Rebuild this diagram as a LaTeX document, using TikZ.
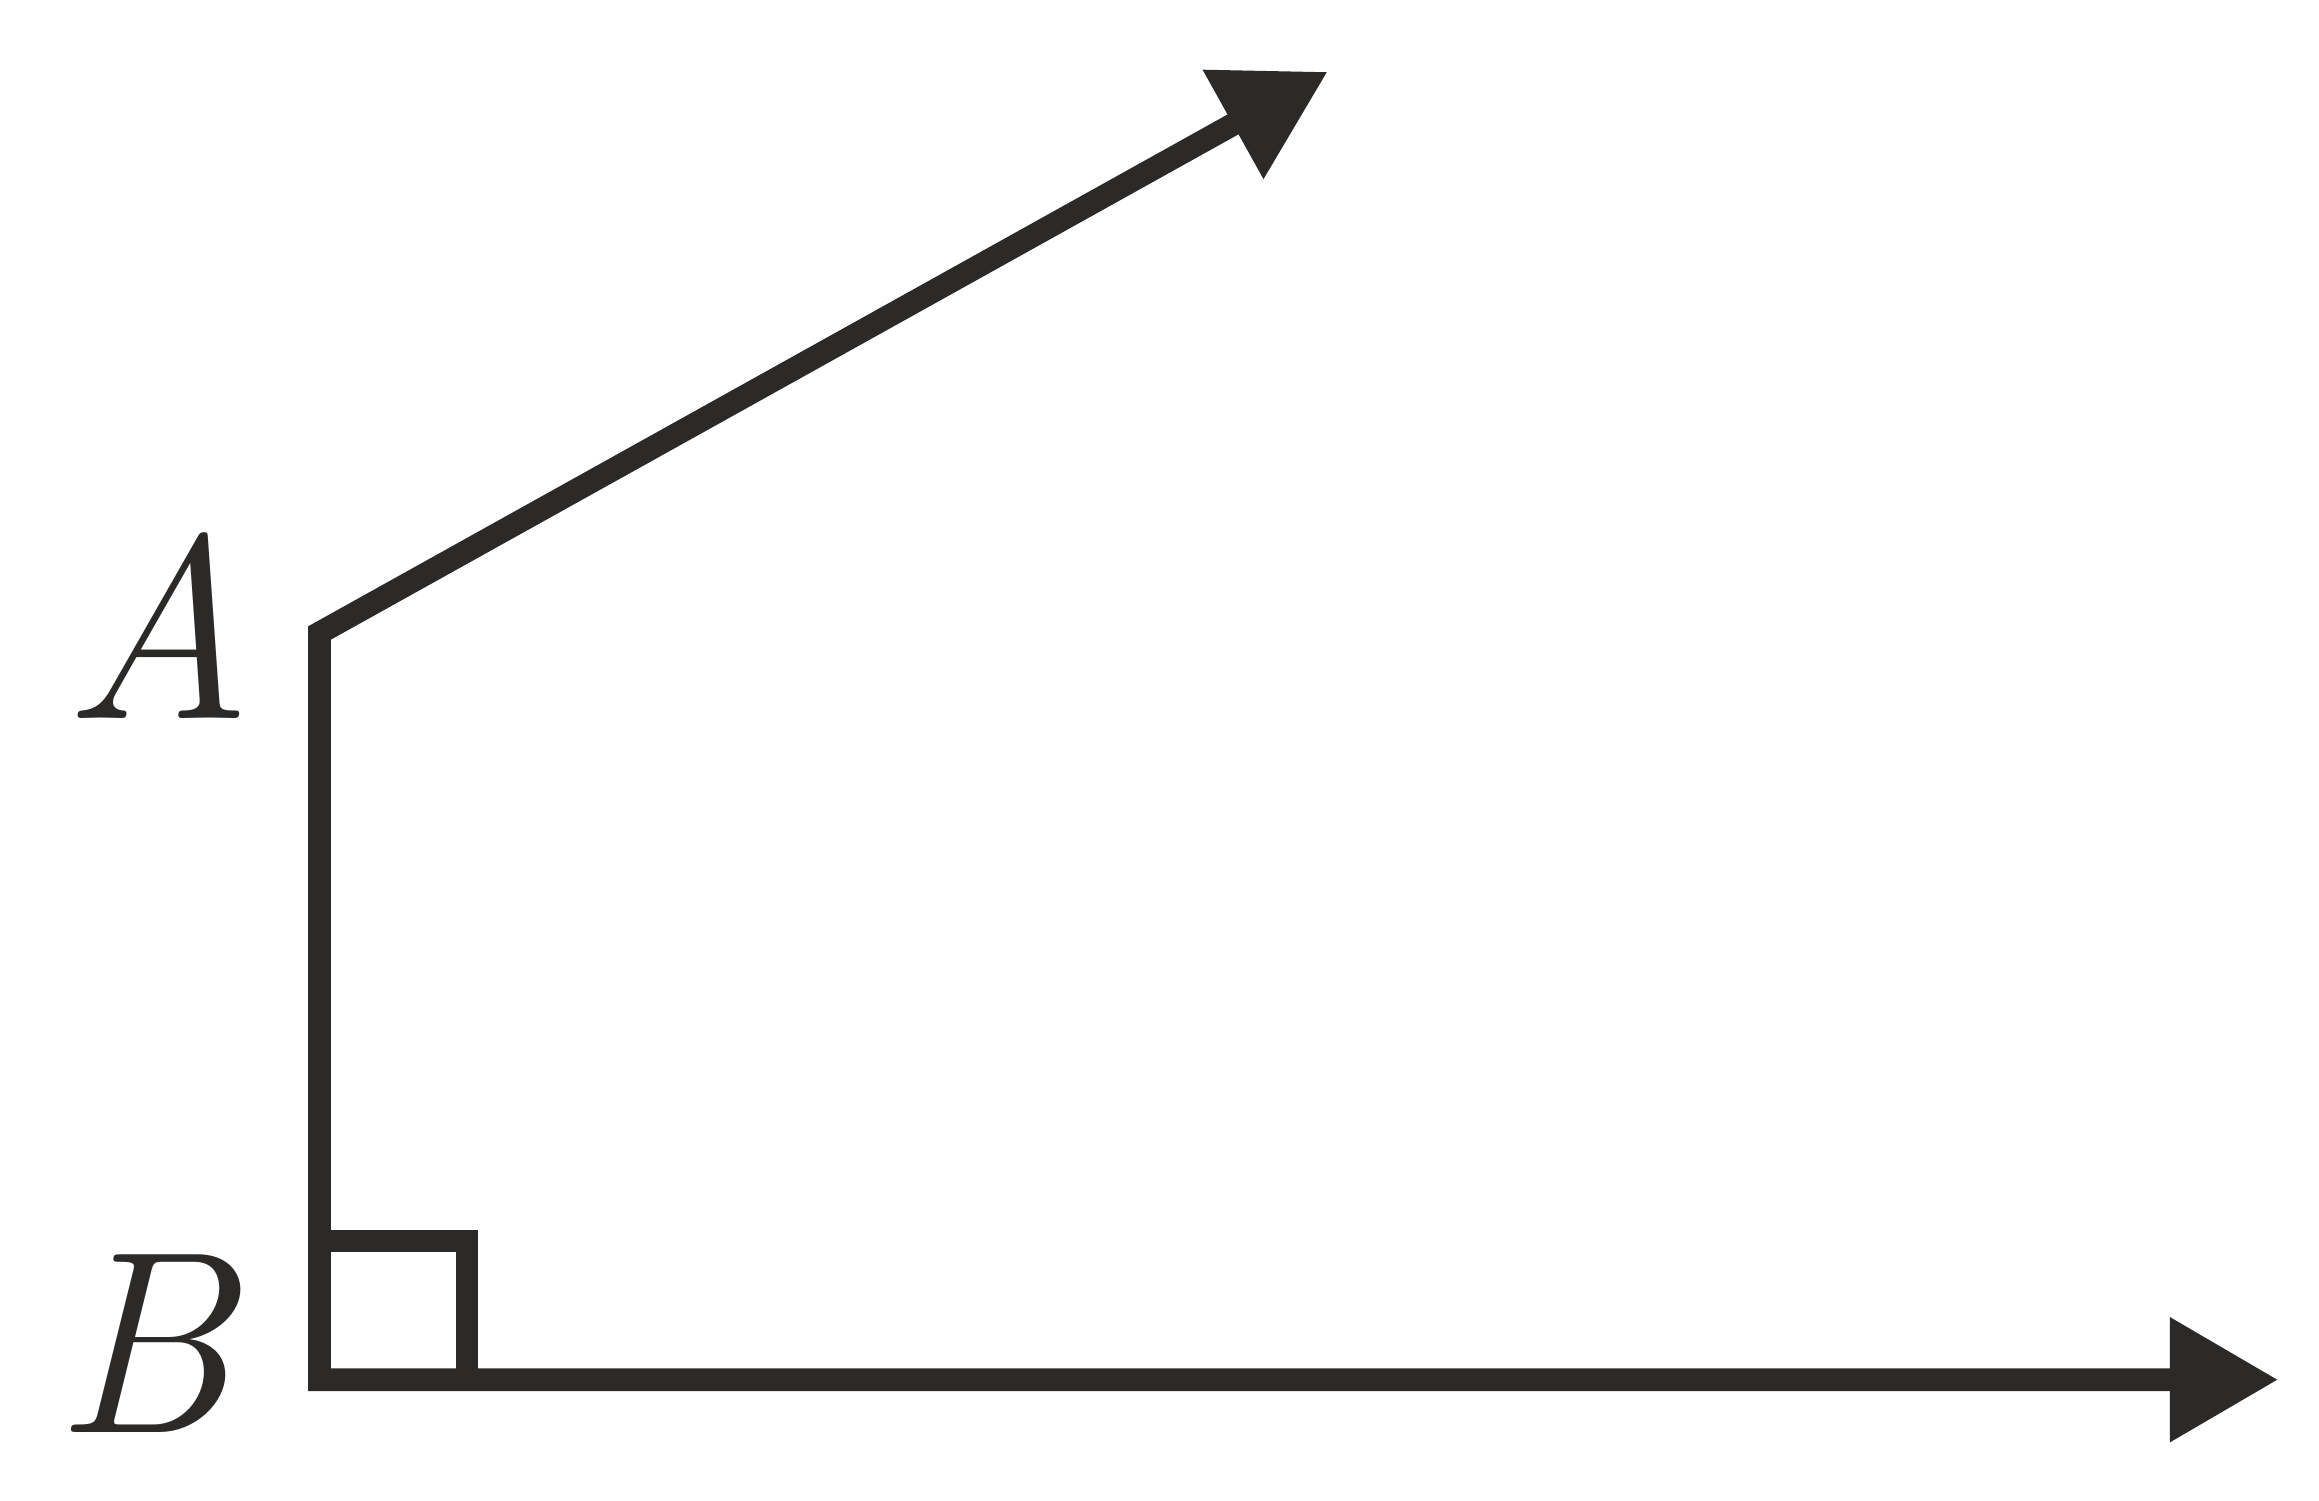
\documentclass[tikz,border=0pt]{standalone}
\usetikzlibrary{arrows.meta}
\definecolor{ink}{RGB}{43,42,40}
\begin{document}
\begin{tikzpicture}[x=0.01cm,y=-0.01cm,
  ray/.style={draw=ink,line width=0.227cm,line join=miter,line cap=butt},
  tipst/.style={ray,{Triangle[length=1.083cm 0 0,width=1.186cm 0 0]}-{Triangle[length=1.083cm 0 0,width=1.186cm 0 0]}},
  lbl/.style={text=ink,inner sep=0pt,anchor=base,font=\fontsize{74}{78}\selectfont\itshape}]
\useasboundingbox[fill=white] (0,0) rectangle (2319,1500);
\coordinate (A) at (319.5,633);
\coordinate (B) at (319.5,1379.7);
\coordinate (TA) at (1327.7,71.7);
\coordinate (TB) at (2278.3,1379.7);
\coordinate (S1) at (319.5,1241);
\coordinate (S2) at (466.9,1241);
\coordinate (S3) at (466.9,1379.7);
\draw[tipst] (TA) -- (A) -- (B) -- (TB);
\draw[ray] (S1) -- (S2) -- (S3);
\node[lbl] (lA) at (158,718) {A};
\node[lbl] (lB) at (143,1432) {B};
\end{tikzpicture}
\end{document}
